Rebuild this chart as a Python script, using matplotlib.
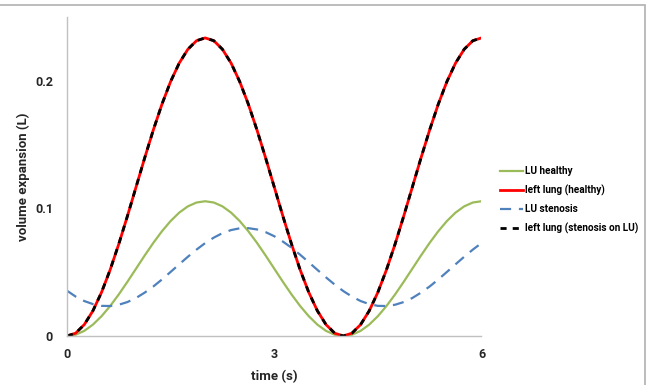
import matplotlib.pyplot as plt
from matplotlib.patches import Rectangle

plt.rcParams["font.family"] = ["Roboto", "DejaVu Sans"]

# =============================================================================
# Data (time in s, volume in L), every 0.125 s
# =============================================================================

time_s = [i * 0.125 for i in range(49)]

lu_healthy = [
    0.0, 0.0010, 0.0040, 0.0089, 0.0155, 0.0235, 0.0326, 0.0425,
    0.0528, 0.0631, 0.0730, 0.0821, 0.0901, 0.0967, 0.1016, 0.1046,
    0.1056, 0.1046, 0.1016, 0.0967, 0.0901, 0.0821, 0.0730, 0.0631,
    0.0528, 0.0425, 0.0326, 0.0235, 0.0155, 0.0089, 0.0040, 0.0010,
    0.0, 0.0010, 0.0040, 0.0089, 0.0155, 0.0235, 0.0326, 0.0425,
    0.0528, 0.0631, 0.0730, 0.0821, 0.0901, 0.0967, 0.1016, 0.1046,
    0.1056,
]

left_lung_healthy = [
    0.0, 0.0022, 0.0089, 0.0197, 0.0342, 0.0519, 0.0721, 0.0940,
    0.1168, 0.1396, 0.1615, 0.1817, 0.1994, 0.2139, 0.2247, 0.2314,
    0.2336, 0.2314, 0.2247, 0.2139, 0.1994, 0.1817, 0.1615, 0.1396,
    0.1168, 0.0940, 0.0721, 0.0519, 0.0342, 0.0197, 0.0089, 0.0022,
    0.0, 0.0022, 0.0089, 0.0197, 0.0342, 0.0519, 0.0721, 0.0940,
    0.1168, 0.1396, 0.1615, 0.1817, 0.1994, 0.2139, 0.2247, 0.2314,
    0.2336,
]

lu_stenosis = [
    0.0355, 0.0309, 0.0274, 0.0250, 0.0236, 0.0235, 0.0245, 0.0266,
    0.0298, 0.0340, 0.0388, 0.0443, 0.0502, 0.0562, 0.0621, 0.0677,
    0.0728, 0.0771, 0.0806, 0.0830, 0.0844, 0.0845, 0.0835, 0.0814,
    0.0782, 0.0740, 0.0692, 0.0637, 0.0578, 0.0518, 0.0459, 0.0403,
    0.0352, 0.0309, 0.0274, 0.0250, 0.0236, 0.0235, 0.0245, 0.0266,
    0.0298, 0.0340, 0.0388, 0.0443, 0.0502, 0.0562, 0.0621, 0.0677,
    0.0728,
]

left_lung_stenosis = [
    0.0, 0.0022, 0.0089, 0.0197, 0.0342, 0.0519, 0.0721, 0.0940,
    0.1168, 0.1396, 0.1615, 0.1817, 0.1994, 0.2139, 0.2247, 0.2314,
    0.2336, 0.2314, 0.2247, 0.2139, 0.1994, 0.1817, 0.1615, 0.1396,
    0.1168, 0.0940, 0.0721, 0.0519, 0.0342, 0.0197, 0.0089, 0.0022,
    0.0, 0.0022, 0.0089, 0.0197, 0.0342, 0.0519, 0.0721, 0.0940,
    0.1168, 0.1396, 0.1615, 0.1817, 0.1994, 0.2139, 0.2247, 0.2314,
    0.2336,
]

x_ticks = [0, 3, 6]
y_ticks = [0, 0.1, 0.2]
y_tick_labels = ["0", "0.1", "0.2"]

# =============================================================================
# Figure
# =============================================================================

fig = plt.figure(figsize=(6.46, 3.85), dpi=100)
ax = fig.add_axes([0.1037, 0.1273, 0.6416, 0.8286])

ax.plot(time_s, lu_healthy, color="#9bbb59", linewidth=1.6,
        label="LU healthy")
ax.plot(time_s, left_lung_healthy, color="#ff0000", linewidth=2.0,
        label="left lung (healthy)")
ax.plot(time_s, lu_stenosis, color="#4f81bd", linewidth=1.6,
        linestyle=(0, (5, 3.5)), label="LU stenosis")
ax.plot(time_s, left_lung_stenosis, color="black", linewidth=2.0,
        linestyle=(0, (2.2, 2.2)), label="left lung (stenosis on LU)")

ax.set_xlim(0, 6)
ax.set_ylim(0, 0.25)
ax.set_xticks(x_ticks)
ax.set_yticks(y_ticks)
ax.set_yticklabels(y_tick_labels)
ax.tick_params(axis="y", length=0, labelsize=9, colors="#262626", pad=10)
ax.tick_params(axis="x", length=0, labelsize=9, colors="#262626", pad=9)
for label in ax.get_xticklabels() + ax.get_yticklabels():
    label.set_fontweight("bold")

for side in ["top", "right"]:
    ax.spines[side].set_visible(False)
for side in ["left", "bottom"]:
    ax.spines[side].set_color("#c0c0c0")
    ax.spines[side].set_linewidth(1.0)

ax.set_xlabel("time (s)", fontsize=9.5, fontweight="bold", color="#262626",
              labelpad=6)
ax.set_ylabel("volume expansion (L)", fontsize=9.5, fontweight="bold",
              color="#262626", labelpad=4)

fig.legend(loc="upper left", bbox_to_anchor=(0.774, 0.568), frameon=False,
           borderpad=0, borderaxespad=0, handlelength=2.3,
           handletextpad=0.2, labelspacing=0.82,
           prop={"weight": "bold", "size": 7.2})

# outer chart border (top and right visible)
fig.patches.append(Rectangle((-0.05, -0.05), 1.05 - 1.5 / 646,
                             1.05 - 4.5 / 385, transform=fig.transFigure,
                             fill=False, edgecolor="#b0b0b0", linewidth=1.2))

plt.savefig("out.png", dpi=100)
